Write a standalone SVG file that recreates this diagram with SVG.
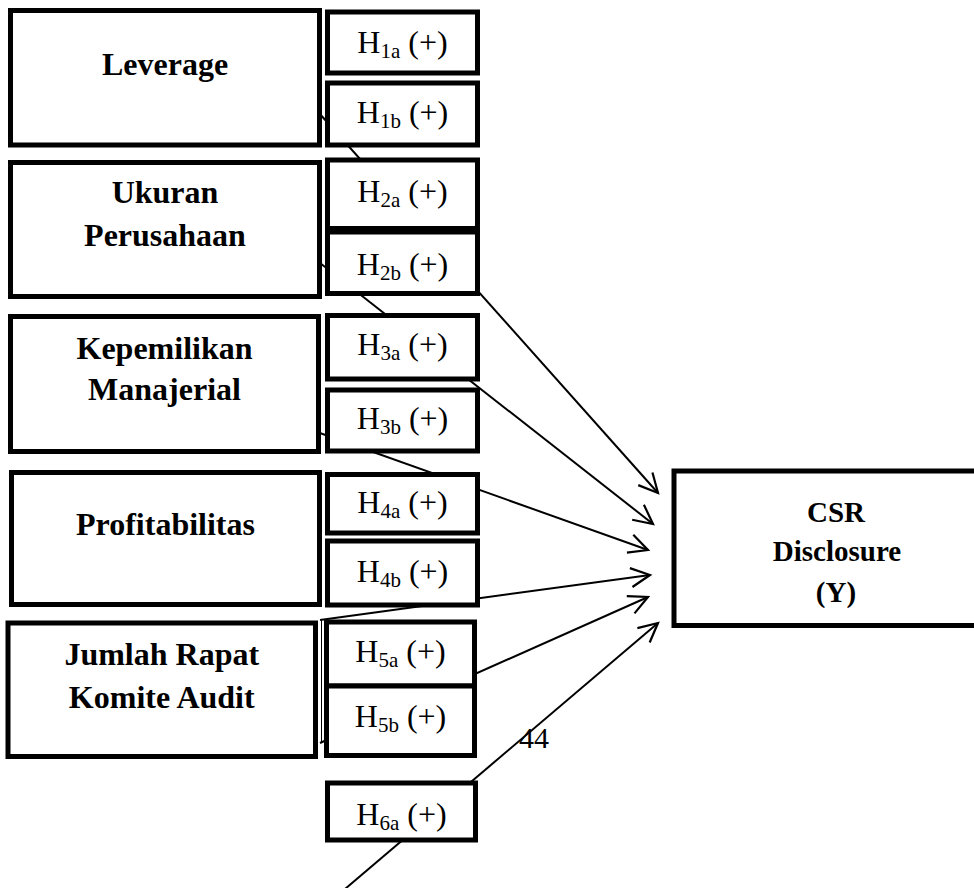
<svg xmlns="http://www.w3.org/2000/svg" width="974" height="888" viewBox="0 0 974 888">
<defs>
<style>
.box{fill:#fff;stroke:#000;stroke-width:5}
.hbox{fill:#fff;stroke:#000;stroke-width:5}
.lbl{font-family:"Liberation Serif","Times New Roman",serif;font-weight:bold;font-size:32px;text-anchor:middle;fill:#000}
.y{font-family:"Liberation Serif","Times New Roman",serif;font-weight:bold;font-size:29px;text-anchor:middle;fill:#000}
.h{font-family:"Liberation Serif","Times New Roman",serif;font-size:32px;text-anchor:middle;fill:#000}
.sub{font-size:21px}
.con{stroke:#000;stroke-width:2;fill:none;marker-end:url(#arr)}
</style>
<marker id="arr" markerUnits="userSpaceOnUse" markerWidth="30" markerHeight="30" viewBox="-24 -15 30 30" refX="0" refY="0" orient="auto" overflow="visible">
<path d="M -19 -9.5 L 0 0 L -19 9.5" fill="none" stroke="#000" stroke-width="2.2"/>
</marker>
</defs>
<rect width="974" height="888" fill="#fff"/>
<g id="connectors">
<line class="con" x1="319" y1="113" x2="658" y2="493"/>
<line class="con" x1="320" y1="263" x2="653" y2="524"/>
<line class="con" x1="317" y1="432" x2="648" y2="550"/>
<line class="con" x1="320" y1="620" x2="650" y2="575"/>
<line class="con" x1="320" y1="743" x2="648" y2="597"/>
<line class="con" x1="345" y1="889" x2="658" y2="623"/>
<line x1="321.5" y1="620" x2="321.5" y2="743" stroke="#000" stroke-width="1"/>
</g>
<g id="leverage"><rect class="box" x="10.5" y="10.5" width="309" height="134.5"/><text class="lbl" x="165" y="75">Leverage</text></g>
<g id="ukuran"><rect class="box" x="10.5" y="162.5" width="309" height="134"/><text class="lbl" x="165" y="203">Ukuran</text><text class="lbl" x="165" y="246">Perusahaan</text></g>
<g id="kepemilikan"><rect class="box" x="10.5" y="316.5" width="308" height="135"/><text class="lbl" x="164.5" y="359">Kepemilikan</text><text class="lbl" x="164.5" y="400">Manajerial</text></g>
<g id="profitabilitas"><rect class="box" x="11.5" y="472.5" width="308" height="132"/><text class="lbl" x="165.5" y="535">Profitabilitas</text></g>
<g id="jumlah"><rect class="box" x="8" y="623" width="307.5" height="133.5"/><text class="lbl" x="161.75" y="665">Jumlah Rapat</text><text class="lbl" x="161.75" y="708">Komite Audit</text></g>
<g id="h1a"><rect class="hbox" x="327.5" y="12" width="150" height="61"/><text class="h" x="402.5" y="53.3">H<tspan class="sub" dy="5">1a</tspan><tspan dy="-5"> (+)</tspan></text></g>
<g id="h1b"><rect class="hbox" x="327.5" y="83" width="150" height="62"/><text class="h" x="402.5" y="123.3">H<tspan class="sub" dy="5">1b</tspan><tspan dy="-5"> (+)</tspan></text></g>
<g id="h2a"><rect class="hbox" x="327.5" y="160" width="150" height="68.5"/><text class="h" x="402.5" y="201.7">H<tspan class="sub" dy="5">2a</tspan><tspan dy="-5"> (+)</tspan></text></g>
<g id="h2b"><rect class="hbox" x="327.5" y="232" width="150" height="61.5"/><text class="h" x="402.5" y="275">H<tspan class="sub" dy="5">2b</tspan><tspan dy="-5"> (+)</tspan></text></g>
<g id="h3a"><rect class="hbox" x="327.5" y="315.5" width="150" height="63.5"/><text class="h" x="402.5" y="355">H<tspan class="sub" dy="5">3a</tspan><tspan dy="-5"> (+)</tspan></text></g>
<g id="h3b"><rect class="hbox" x="327.5" y="390" width="150" height="61"/><text class="h" x="402.5" y="429.3">H<tspan class="sub" dy="5">3b</tspan><tspan dy="-5"> (+)</tspan></text></g>
<g id="h4a"><rect class="hbox" x="327.5" y="474.5" width="150" height="58.5"/><text class="h" x="402.5" y="513.3">H<tspan class="sub" dy="5">4a</tspan><tspan dy="-5"> (+)</tspan></text></g>
<g id="h4b"><rect class="hbox" x="327.5" y="541" width="150" height="64"/><text class="h" x="402.5" y="581.7">H<tspan class="sub" dy="5">4b</tspan><tspan dy="-5"> (+)</tspan></text></g>
<g id="h5a"><rect class="hbox" x="326.5" y="622" width="148" height="64"/><text class="h" x="400.5" y="661.7">H<tspan class="sub" dy="5">5a</tspan><tspan dy="-5"> (+)</tspan></text></g>
<g id="h5b"><rect class="hbox" x="326.5" y="686" width="148" height="69.5"/><text class="h" x="400.5" y="726.7">H<tspan class="sub" dy="5">5b</tspan><tspan dy="-5"> (+)</tspan></text></g>
<g id="h6a"><rect class="hbox" x="327.5" y="783" width="148" height="57"/><text class="h" x="401.5" y="825">H<tspan class="sub" dy="5">6a</tspan><tspan dy="-5"> (+)</tspan></text></g>
<g id="csr"><rect class="box" x="674" y="471" width="400" height="154.5"/><text class="y" x="836" y="522">CSR</text><text class="y" x="837" y="561">Disclosure</text><text class="y" x="836" y="602">(Y)</text></g>
<text x="534" y="748" font-family="'Liberation Serif','Times New Roman',serif" font-size="30" text-anchor="middle" fill="#000">44</text>
</svg>
